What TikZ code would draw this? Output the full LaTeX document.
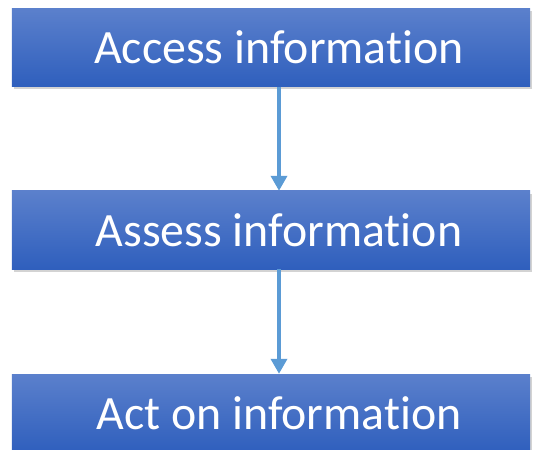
\documentclass[tikz,border=0pt]{standalone}
\usepackage{fontspec}
\setmainfont{Carlito}[Ligatures=NoCommon]
\usetikzlibrary{arrows.meta,shadows}
\definecolor{boxtop}{HTML}{5B80CC}
\definecolor{boxbot}{HTML}{2F5FBD}
\definecolor{flowblue}{HTML}{5B9BD5}
\begin{document}
\begin{tikzpicture}[x=1bp,y=1bp,
    infobox/.style={minimum width=518bp, minimum height=78bp, inner sep=0pt,
        top color=boxtop, bottom color=boxbot, text=white,
        font=\fontsize{48}{52}\selectfont,
        execute at begin node=\hspace*{16bp},
        drop shadow={opacity=0.35, shadow xshift=2bp, shadow yshift=-3bp}},
    flow/.style={draw=flowblue, line width=3.5bp, -{Triangle[width=16bp,length=15bp]}}]
    \useasboundingbox (0,0) rectangle (535,-450);
    \foreach[count=\i] \t/\y in {Access information/-47.5, Assess information/-230, Act on information/-413}
    {
        \node[infobox] (b\i) at (271,\y) {\t};
    }
    \foreach \i/\j in {1/2,2/3}
        \draw[flow] ([xshift=8bp]b\i.south) -- ([xshift=8bp]b\j.north);
\end{tikzpicture}
\end{document}
